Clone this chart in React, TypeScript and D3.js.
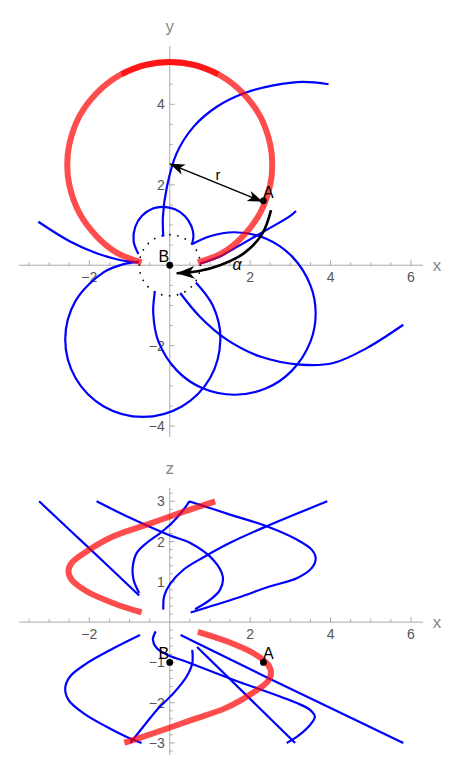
import * as d3 from "d3";
import React from "react";

type Pt = [number, number];

// ---- top panel: x-y plane ----
const xyRedRight: Pt[] = [[0.7, 0.07], [1.3, 0.3], [1.8, 0.7], [2.25, 1.3], [2.5, 2.0], [2.55, 2.5], [2.5, 3.0], [2.25, 3.7], [1.8, 4.3], [1.2, 4.75], [0.6, 4.98], [0, 5.05], [-0.6, 4.98], [-1.2, 4.75]];
const xyRedLeft: Pt[] = [[1.2, 4.75], [0.6, 4.98], [0, 5.05], [-0.6, 4.98], [-1.2, 4.75], [-1.8, 4.3], [-2.25, 3.7], [-2.5, 3.0], [-2.55, 2.5], [-2.5, 2.0], [-2.25, 1.3], [-1.8, 0.7], [-1.3, 0.3], [-0.7, 0.07]];

const xyUpperArc: Pt[] = [[-0.16, 0.71], [-0.17, 1.21], [-0.07, 1.95], [0.17, 2.78], [0.59, 3.44], [1.17, 3.94], [1.83, 4.27], [2.58, 4.47], [3.32, 4.56], [3.95, 4.5]];
const xyLowerArc: Pt[] = [[0.26, -0.69], [0.75, -1.28], [1.42, -1.85], [2.25, -2.27], [3.24, -2.47], [4.07, -2.43], [4.9, -2.06], [5.81, -1.48]];
const xyLeftCircle: Pt[] = [[0.65, -0.43], [1.08, -1.02], [1.26, -1.84], [1.0, -2.81], [0.3, -3.51], [-0.67, -3.77], [-1.64, -3.51], [-2.34, -2.81], [-2.6, -1.84], [-2.34, -0.88], [-1.64, -0.17], [-1.17, 0.02], [-0.77, 0.09]];
const xyMiddleCircle: Pt[] = [[0.55, 0.52], [1.0, 0.72], [1.61, 0.82], [2.4, 0.66], [3.04, 0.22], [3.5, -0.5], [3.63, -1.2], [3.5, -1.9], [3.04, -2.62], [2.4, -3.06], [1.61, -3.22], [0.82, -3.06], [0.18, -2.62], [-0.28, -1.9], [-0.41, -1.2], [-0.37, -0.65]];
const xyBump: Pt[] = [[-0.78, 0.28], [-0.9, 0.6], [-0.86, 0.95], [-0.69, 1.23], [-0.42, 1.41], [-0.16, 1.45], [0.13, 1.39], [0.38, 1.22], [0.54, 0.97], [0.59, 0.72], [0.55, 0.52]];
const xyLeftTail: Pt[] = [[-3.27, 1.08], [-2.48, 0.59], [-1.82, 0.3], [-1.24, 0.13], [-0.78, 0.07]];
const xyRightTail: Pt[] = [[0.75, 0.04], [1.25, 0.22], [1.75, 0.5], [2.41, 0.88], [2.99, 1.22], [3.14, 1.35]];

const xyArrowR: Pt[] = [[0.0, 2.52], [2.31, 1.58]];
const xyArrowAlpha: Pt[] = [[2.52, 1.37], [2.3, 0.78], [1.85, 0.3], [1.25, 0.0], [0.7, -0.15], [0.17, -0.2]];
const xyPointA: Pt = [2.33, 1.6];
const xyPointB: Pt = [0, 0];
const dotRadius = 0.76;

// ---- bottom panel: x-z plane ----
const xzRedUpper: Pt[] = [[1.13, 3.0], [0.26, 2.71], [-0.57, 2.42], [-1.4, 2.13], [-2.06, 1.76], [-2.44, 1.47], [-2.52, 1.26], [-2.44, 1.05], [-2.06, 0.76], [-1.4, 0.47], [-0.7, 0.24]];
const xzRedLower: Pt[] = [[0.7, -0.24], [1.4, -0.47], [2.06, -0.76], [2.44, -1.05], [2.52, -1.26], [2.44, -1.47], [2.06, -1.76], [1.4, -2.13], [0.57, -2.42], [-0.26, -2.71], [-1.13, -3.0]];

const xzDiagLeft: Pt[] = [[-3.25, 3.0], [-2.0, 1.83], [-0.76, 0.66]];
const xzBumpUp: Pt[] = [[-0.76, 0.72], [-0.9, 1.05], [-0.92, 1.38], [-0.82, 1.72], [-0.57, 1.97], [-0.24, 2.21], [0.09, 2.5], [0.34, 2.79], [0.49, 3.0]];
const xzChevron: Pt[] = [[0.48, 3.0], [1.5, 2.67], [2.41, 2.38], [3.16, 2.05], [3.53, 1.8], [3.63, 1.59], [3.53, 1.34], [3.16, 1.09], [2.5, 0.89], [1.67, 0.6], [0.52, 0.24]];
const xzSCurve: Pt[] = [[-1.82, 3.0], [-0.99, 2.59], [0.01, 2.15], [0.5, 1.97], [1.08, 1.55], [1.32, 1.13], [1.25, 0.8], [1.0, 0.55], [0.63, 0.32]];
const xzRising: Pt[] = [[-0.16, 0.31], [-0.14, 0.64], [0.01, 0.95], [0.34, 1.3], [0.84, 1.61], [1.5, 1.97], [2.41, 2.38], [3.92, 3.0]];
const xzLeftLoop: Pt[] = [[-0.74, -0.32], [-1.4, -0.65], [-2.06, -1.02], [-2.48, -1.35], [-2.6, -1.64], [-2.52, -1.93], [-2.15, -2.26], [-1.57, -2.6], [-0.99, -2.89], [-0.7, -3.0]];
const xzCenterRise: Pt[] = [[-0.98, -3.0], [-0.66, -2.6], [-0.32, -2.18], [0.09, -1.77], [0.42, -1.35], [0.56, -1.02], [0.56, -0.69]];
const xzHook: Pt[] = [[-0.35, -0.23], [-0.42, -0.44], [-0.32, -0.65], [-0.07, -0.81], [0.4, -0.98], [1.58, -1.43], [3.16, -2.01], [3.49, -2.18], [3.61, -2.35], [3.45, -2.6], [3.16, -2.85], [2.91, -3.0]];
const xzLongLine: Pt[] = [[0.27, -0.32], [2.33, -1.33], [5.81, -3.0]];
const xzSteepLine: Pt[] = [[0.68, -0.62], [3.12, -3.0]];
const xzPointA: Pt = [2.33, -1.0];
const xzPointB: Pt = [0, -1.0];

// tick labels
const xTicks = [-2, 2, 4, 6];
const yTicks = [-4, -2, 2, 4];
const zTicks = [-3, -2, -1, 1, 2, 3];

const xyBlue = [xyUpperArc, xyLowerArc, xyLeftCircle, xyMiddleCircle, xyBump, xyLeftTail, xyRightTail];
const xyRed = [xyRedRight, xyRedLeft];
const xzBlue = [xzDiagLeft, xzBumpUp, xzChevron, xzSCurve, xzRising, xzLeftLoop, xzCenterRise, xzHook, xzLongLine, xzSteepLine];
const xzRed = [xzRedUpper, xzRedLower];

const width = 460;
const height = 775;
const font = "'Liberation Sans', Arial, sans-serif";

const xScale = d3.scaleLinear().domain([-3.75, 6.3]).range([19, 423]);
const yScale = d3.scaleLinear().domain([-4.27, 5.45]).range([437, 46]);
const zScale = d3.scaleLinear().domain([-3.3, 3.33]).range([755, 488]);

const fmt = (v: number) => (v < 0 ? "\u2212" + Math.abs(v) : String(v));

function Axes({ vScale, vTicks, vMinor, vName }: any) {
  const y0 = vScale(0);
  const x0 = xScale(0);
  const [vb, vt] = vScale.range();
  const xMinor = d3.range(-3.5, 6.3, 0.5).filter((t) => Math.abs(t) > 1e-6);
  const vMinorTicks = d3.range(Math.ceil(vScale.domain()[0] / vMinor) * vMinor, vScale.domain()[1], vMinor)
    .filter((t) => Math.abs(t) > 1e-6);
  const isMajor = (t: number, step: number) => Math.abs(t / step - Math.round(t / step)) < 1e-6;
  return (
    <g stroke="#aaa" strokeWidth={1}>
      <line x1={xScale.range()[0]} x2={xScale.range()[1]} y1={y0} y2={y0} />
      <line x1={x0} x2={x0} y1={vb} y2={vt} />
      {xMinor.map((t) => (
        <line key={"x" + t} x1={xScale(t)} x2={xScale(t)} y1={y0} y2={y0 - (isMajor(t, 2) ? 5 : 3)} />
      ))}
      {vMinorTicks.map((t) => (
        <line key={"v" + t} x1={x0} x2={x0 + (vTicks.includes(Math.round(t * 10) / 10) ? 5 : 3)} y1={vScale(t)} y2={vScale(t)} />
      ))}
      <g stroke="none" fill="#555" fontSize={14} fontFamily={font}>
        {xTicks.map((t) => (
          <text key={"xl" + t} x={xScale(t)} y={y0 + 17} textAnchor="middle">{fmt(t)}</text>
        ))}
        {vTicks.map((t: number) => (
          <text key={"vl" + t} x={x0 - 5} y={vScale(t) + 5} textAnchor="end">{fmt(t)}</text>
        ))}
      </g>
      <g stroke="none" fill="#888" fontSize={17} fontFamily={font} textAnchor="middle">
        <text x={437} y={y0 + 6}>x</text>
        <text x={x0} y={vt - 14}>{vName}</text>
      </g>
    </g>
  );
}

const App = () => {
  const lineXY = d3.line<Pt>().x((d) => xScale(d[0])).y((d) => yScale(d[1])).curve(d3.curveCatmullRom);
  const lineXZ = d3.line<Pt>().x((d) => xScale(d[0])).y((d) => zScale(d[1])).curve(d3.curveCatmullRom);
  const straightXY = d3.line<Pt>().x((d) => xScale(d[0])).y((d) => yScale(d[1]));

  return (
    <svg width={width} height={height} style={{ position: "absolute", left: 0, top: 0, background: "#fff" }}>
      <defs>
        <marker id="headR" markerUnits="userSpaceOnUse" viewBox="-16 -7 18 14" refX={0} refY={0}
          markerWidth={18} markerHeight={14} orient="auto-start-reverse">
          <path d="M0,0 L-15,-5.5 L-11,0 L-15,5.5 Z" fill="#000" />
        </marker>
        <marker id="headA" markerUnits="userSpaceOnUse" viewBox="-19 -8 21 16" refX={0} refY={0}
          markerWidth={21} markerHeight={16} orient="auto">
          <path d="M0,0 L-18,-6.5 L-13,0 L-18,6.5 Z" fill="#000" />
        </marker>
      </defs>

      {/* x-y plane */}
      <Axes vScale={yScale} vTicks={yTicks} vMinor={0.5} vName="y" />
      <circle cx={xScale(0)} cy={yScale(0)} r={xScale(dotRadius) - xScale(0)} fill="none" stroke="#000"
        strokeWidth={1.8} strokeDasharray="0 8" strokeLinecap="round" />
      {xyBlue.map((d, i) => (
        <path key={i} d={lineXY(d) || ""} fill="none" stroke="#0000ff" strokeWidth={2.2} />
      ))}
      {xyRed.map((d, i) => (
        <path key={i} d={lineXY(d) || ""} fill="none" stroke="#ff0000" strokeOpacity={0.7} strokeWidth={6} />
      ))}
      <path d={straightXY(xyArrowR) || ""} stroke="#000" strokeWidth={1.5} fill="none"
        markerStart="url(#headR)" markerEnd="url(#headR)" />
      <path d={lineXY(xyArrowAlpha) || ""} stroke="#000" strokeWidth={2.6} fill="none" markerEnd="url(#headA)" />
      <circle cx={xScale(xyPointA[0])} cy={yScale(xyPointA[1])} r={3.4} fill="#000" />
      <circle cx={xScale(xyPointB[0])} cy={yScale(xyPointB[1])} r={3.4} fill="#000" />
      <g fontFamily={font} fontSize={16} fill="#000" textAnchor="middle">
        <text x={xScale(xyPointA[0]) + 5} y={yScale(xyPointA[1]) - 3}>A</text>
        <text x={xScale(xyPointB[0]) - 6} y={yScale(xyPointB[1]) - 3}>B</text>
        <text x={218} y={180} fontSize={15}>r</text>
        <text x={237} y={270} fontSize={16} fontStyle="italic">α</text>
      </g>

      {/* x-z plane */}
      <Axes vScale={zScale} vTicks={zTicks} vMinor={0.2} vName="z" />
      {xzBlue.map((d, i) => (
        <path key={i} d={lineXZ(d) || ""} fill="none" stroke="#0000ff" strokeWidth={2.2} />
      ))}
      {xzRed.map((d, i) => (
        <path key={i} d={lineXZ(d) || ""} fill="none" stroke="#ff0000" strokeOpacity={0.7} strokeWidth={6} />
      ))}
      <circle cx={xScale(xzPointA[0])} cy={zScale(xzPointA[1])} r={3.4} fill="#000" />
      <circle cx={xScale(xzPointB[0])} cy={zScale(xzPointB[1])} r={3.4} fill="#000" />
      <g fontFamily={font} fontSize={16} fill="#000" textAnchor="middle">
        <text x={xScale(xzPointA[0]) + 5} y={zScale(xzPointA[1]) - 3}>A</text>
        <text x={xScale(xzPointB[0]) - 6} y={zScale(xzPointB[1]) - 3}>B</text>
      </g>
    </svg>
  );
};

export default App;
